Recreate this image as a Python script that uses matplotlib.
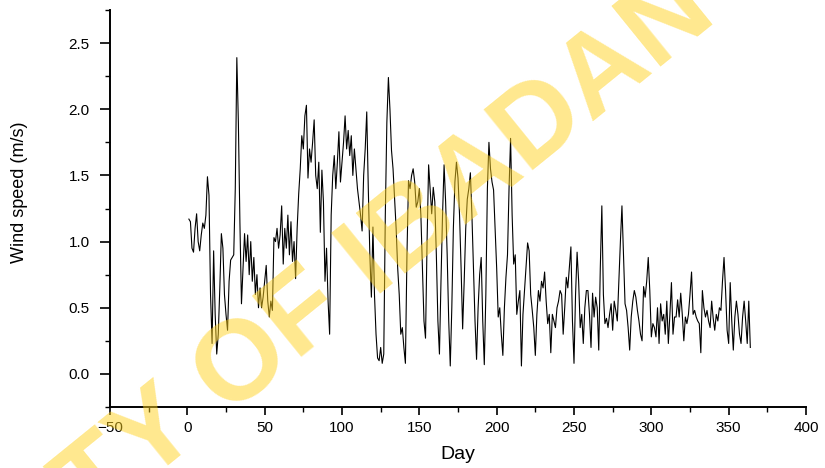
import matplotlib
matplotlib.use("Agg")
import matplotlib.pyplot as plt
from matplotlib.ticker import MultipleLocator
import numpy as np

plt.rcParams["font.family"] = ["Liberation Sans", "DejaVu Sans"]

# daily wind speed (m/s), days 1..364
wind = [
    1.17, 1.15, 0.95, 0.92, 1.10, 1.21, 1.00, 0.93, 1.05, 1.14,
    1.10, 1.20, 1.49, 1.35, 0.60, 0.23, 0.93, 0.45, 0.15, 0.30,
    0.65, 1.06, 0.95, 0.60, 0.45, 0.33, 0.70, 0.86, 0.88, 0.90,
    1.40, 2.39, 1.90, 1.14, 0.53, 0.80, 1.06, 0.85, 1.05, 0.75,
    1.00, 0.70, 0.88, 0.60, 0.75, 0.50, 0.65, 0.50, 0.58, 0.70,
    0.82, 0.55, 0.43, 0.55, 0.48, 1.03, 1.00, 1.10, 0.95, 1.05,
    1.27, 0.83, 1.10, 0.95, 1.20, 0.90, 1.15, 0.85, 1.00, 0.72,
    1.10, 1.36, 1.55, 1.80, 1.70, 1.95, 2.03, 1.48, 1.70, 1.60,
    1.75, 1.92, 1.50, 1.40, 1.60, 1.07, 1.54, 1.30, 0.70, 0.95,
    0.55, 0.30, 1.20, 1.50, 1.65, 1.40, 1.60, 1.83, 1.45, 1.60,
    1.75, 1.95, 1.70, 1.84, 1.65, 1.80, 1.50, 1.70, 1.55, 1.40,
    1.30, 1.20, 1.08, 1.50, 1.70, 1.98, 1.40, 0.90, 0.58, 1.11,
    0.60, 0.30, 0.12, 0.10, 0.20, 0.08, 0.15, 1.20, 1.90, 2.24,
    2.00, 1.69, 1.55, 1.33, 1.10, 0.80, 0.60, 0.30, 0.35, 0.20,
    0.08, 0.90, 1.46, 1.40, 1.50, 1.55, 1.45, 1.26, 1.30, 1.40,
    1.20, 0.80, 0.40, 0.27, 1.00, 1.58, 1.40, 1.21, 1.41, 1.30,
    0.90, 0.40, 0.15, 0.70, 1.20, 1.58, 1.30, 0.90, 0.40, 0.06,
    0.50, 1.10, 1.45, 1.60, 1.48, 1.20, 0.80, 0.34, 0.70, 1.10,
    1.32, 1.40, 1.52, 1.20, 0.80, 0.40, 0.11, 0.50, 0.75, 0.88,
    0.40, 0.07, 0.60, 1.40, 1.75, 1.55, 1.45, 1.39, 1.10, 0.80,
    0.43, 0.50, 0.30, 0.14, 0.50, 0.73, 0.90, 1.40, 1.78, 1.20,
    0.83, 0.90, 0.45, 0.55, 0.63, 0.06, 0.45, 0.63, 0.80, 0.99,
    0.93, 0.60, 0.48, 0.35, 0.14, 0.45, 0.63, 0.55, 0.70, 0.65,
    0.77, 0.55, 0.38, 0.45, 0.16, 0.45, 0.40, 0.35, 0.50, 0.55,
    0.63, 0.60, 0.30, 0.50, 0.73, 0.65, 0.80, 0.96, 0.40, 0.08,
    0.60, 0.92, 0.70, 0.35, 0.45, 0.23, 0.50, 0.63, 0.63, 0.45,
    0.20, 0.61, 0.43, 0.58, 0.50, 0.18, 0.80, 1.27, 0.60, 0.38,
    0.42, 0.35, 0.45, 0.53, 0.33, 0.55, 0.48, 0.40, 0.70, 1.00,
    1.27, 0.90, 0.53, 0.48, 0.35, 0.18, 0.43, 0.55, 0.63, 0.58,
    0.48, 0.40, 0.30, 0.25, 0.66, 0.58, 0.70, 0.88, 0.63, 0.28,
    0.38, 0.35, 0.28, 0.50, 0.23, 0.53, 0.40, 0.45, 0.30, 0.55,
    0.23, 0.45, 0.69, 0.30, 0.43, 0.43, 0.56, 0.43, 0.61, 0.45,
    0.25, 0.43, 0.38, 0.45, 0.60, 0.77, 0.45, 0.48, 0.43, 0.40,
    0.38, 0.16, 0.63, 0.50, 0.43, 0.48, 0.40, 0.35, 0.55, 0.42,
    0.33, 0.45, 0.40, 0.50, 0.48, 0.70, 0.88, 0.63, 0.33, 0.23,
    0.69, 0.40, 0.18, 0.43, 0.55, 0.45, 0.30, 0.23, 0.43, 0.55,
    0.40, 0.23, 0.55, 0.20,
]
days = np.arange(1, len(wind) + 1)

fig = plt.figure(figsize=(8.25, 4.68), dpi=100)
ax = fig.add_axes([110 / 825, 1 - 407 / 468, 696 / 825, 397 / 468])

ax.plot(days, wind, color="black", linewidth=0.8)

ax.set_xlim(-50, 400)
ax.set_ylim(-0.25, 2.75)
ax.xaxis.set_major_locator(MultipleLocator(50))
ax.xaxis.set_minor_locator(MultipleLocator(25))
ax.yaxis.set_minor_locator(MultipleLocator(0.25))
ax.set_yticks([0.0, 0.5, 1.0, 1.5, 2.0, 2.5])
ax.set_yticklabels(["0.0", "0.5", "1.0", "1.5", "2.0", "2.5"])

for s in ["top", "right"]:
    ax.spines[s].set_visible(False)
for s in ["left", "bottom"]:
    ax.spines[s].set_linewidth(1.4)

ax.tick_params(axis="y", which="major", direction="out", length=7.5,
               width=1.2, labelsize=11, pad=7)
ax.tick_params(axis="x", which="major", direction="out", length=6,
               width=1.2, labelsize=11, pad=4)
ax.tick_params(which="minor", direction="out", length=3.5, width=1.0)

ax.set_xlabel("Day", fontsize=14, labelpad=8)
ax.set_ylabel("Wind speed (m/s)", fontsize=13)
ax.yaxis.set_label_coords(-0.118, 0.54)

# watermark
fig.text(178 / 825, 1 - 420 / 468, "UNIVERSITY OF IBADAN", fontsize=82,
         fontweight="bold", color="#FFD21F", alpha=0.5, rotation=39,
         ha="center", va="center", rotation_mode="anchor", zorder=10)

fig.savefig("out.png", dpi=100)
